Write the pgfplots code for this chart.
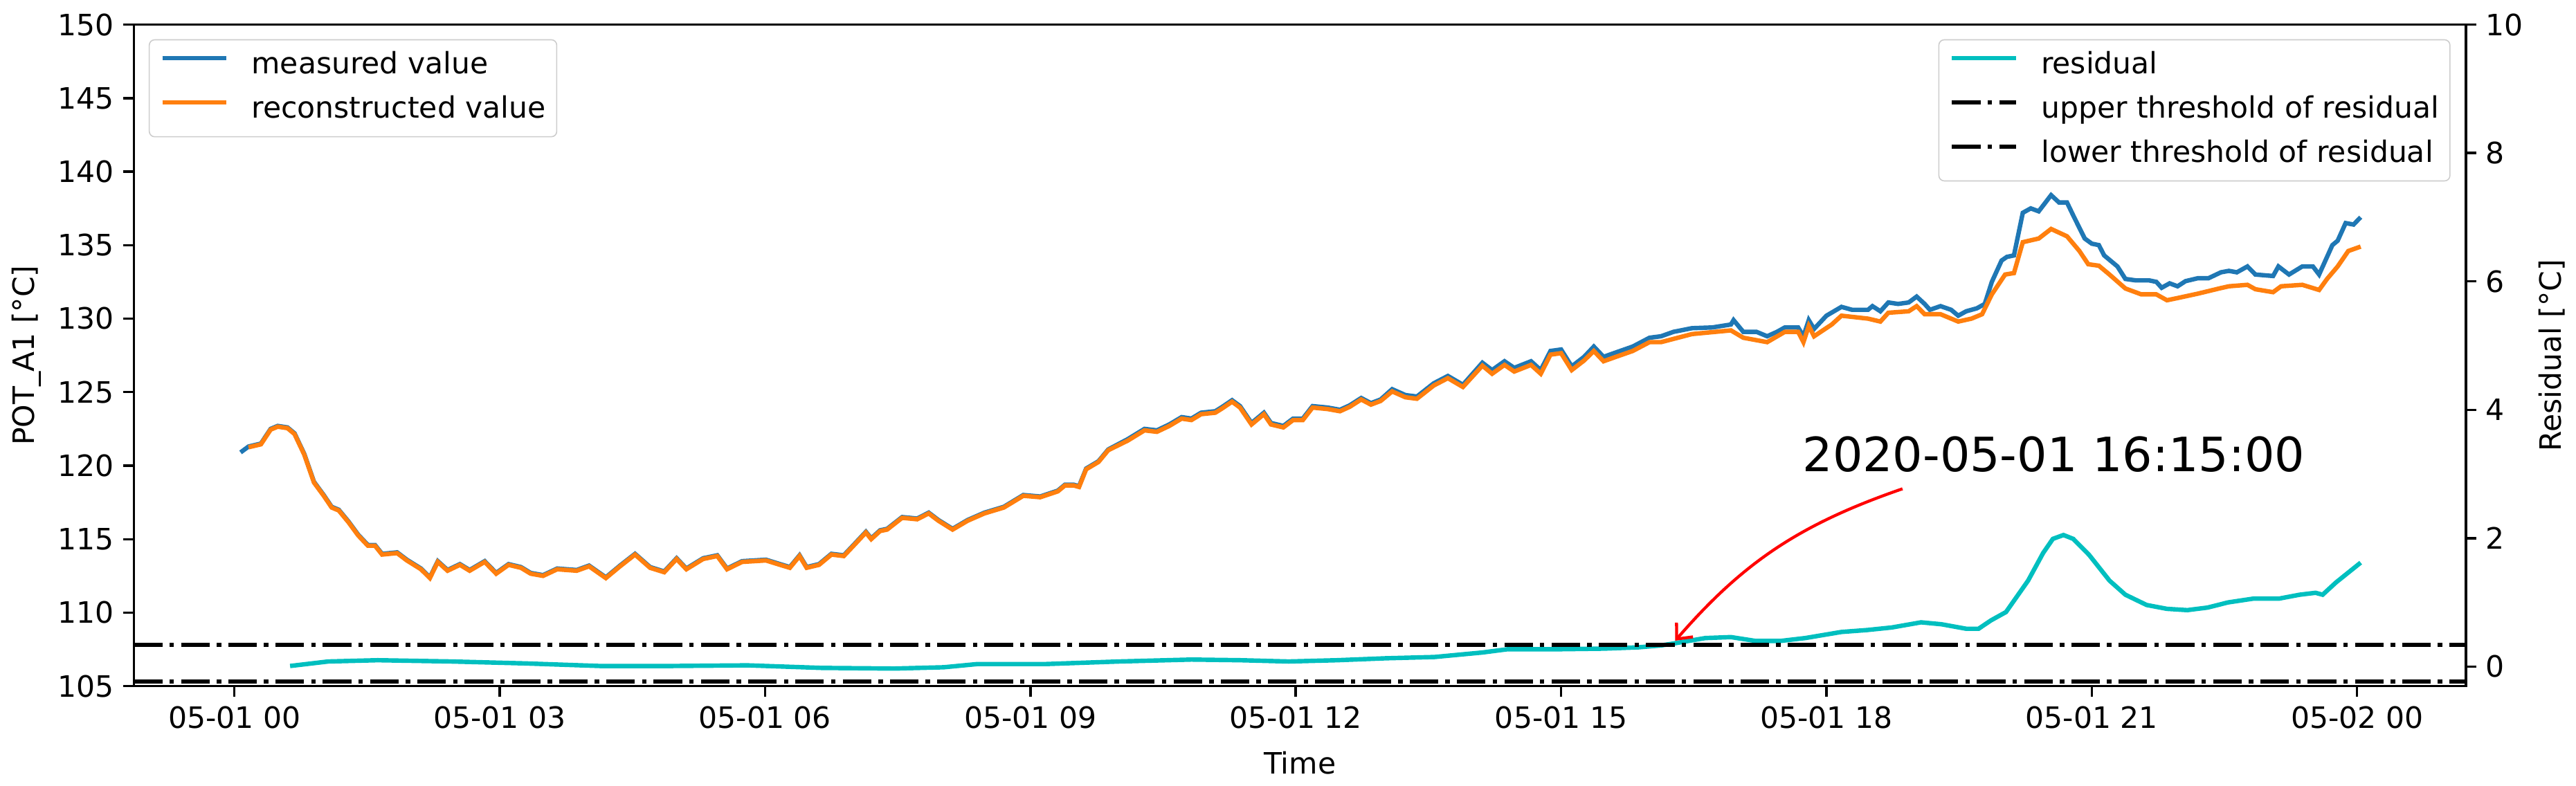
\documentclass[border=0pt]{standalone}
\usepackage{fontspec}
\setmainfont{DejaVu Sans}
\usepackage{graphicx}
\usepackage{pgfplots}
\pgfplotsset{compat=1.18}
\usetikzlibrary{arrows.meta}
\definecolor{mblue}{HTML}{1F77B4}
\definecolor{morange}{HTML}{FF7F0E}
\definecolor{mcyan}{RGB}{0,191,191}
\newcommand\basefont{\fontsize{10.8}{13}\selectfont}
\begin{document}
\begin{tikzpicture}
\pgfplotsset{
  common/.style={
    scale only axis, width=855.7pt, height=242.8pt,
    xmin=-1.137, xmax=25.23,
    axis line style={line width=0.87pt},
    every tick/.style={line width=0.87pt, black},
    major tick length=3.8pt,
    tick align=outside,
    font=\basefont,
    /pgf/number format/assume math mode=true,
    legend cell align=left,
    legend style={draw=black!20, fill=white, fill opacity=0.8, text opacity=1,
      rounded corners=2pt, inner xsep=4pt, inner ysep=4.3pt, row sep=5.4pt,
      font=\basefont,
      nodes={inner sep=0pt, text height=8.2pt, text depth=2.6pt},
      /tikz/every odd column/.append style={column sep=8.5pt}},
    legend image code/.code={\draw[##1] (0pt,2.9pt) -- (23.4pt,2.9pt);},
  }
}
\begin{axis}[common, name=ax1,
  ymin=105, ymax=150, ytick={105,110,...,150},
  xtick={0,3,...,24},
  xticklabels={05-01 00,05-01 03,05-01 06,05-01 09,05-01 12,05-01 15,05-01 18,05-01 21,05-02 00},
  tick pos=left,
  xlabel={Time}, ylabel={POT\_A1 [°C]},
  xlabel style={at={(axis description cs:0.5,-0.1156)}, anchor=center},
  ylabel style={at={(axis description cs:-0.0460,0.5)}, anchor=center},
  legend style={at={(axis description cs:0.0064,0.9779)}, anchor=north west},
]
\addplot[mblue, line width=1.63pt] coordinates {
(0.07,120.9)(0.16,121.3)(0.30,121.5)(0.41,122.5)(0.49,122.7)(0.60,122.6)(0.68,122.2)(0.79,120.8)(0.90,118.9)(1.01,118.0)
(1.10,117.2)(1.18,117.0)(1.29,116.2)(1.40,115.3)(1.51,114.6)(1.59,114.6)(1.67,114.0)(1.84,114.1)(1.95,113.6)(2.11,113.0)
(2.21,112.4)(2.30,113.5)(2.41,112.9)(2.55,113.3)(2.66,112.9)(2.83,113.5)(2.96,112.7)(3.10,113.3)(3.24,113.1)(3.35,112.7)
(3.49,112.55)(3.65,113.0)(3.87,112.9)(4.01,113.2)(4.20,112.4)(4.36,113.2)(4.53,114.0)(4.70,113.1)(4.86,112.8)(5.00,113.7)
(5.11,113.0)(5.30,113.7)(5.46,113.9)(5.57,113.0)(5.74,113.5)(6.01,113.6)(6.17,113.3)(6.28,113.1)(6.39,113.9)(6.47,113.1)
(6.61,113.3)(6.75,114.0)(6.89,113.9)(7.00,114.6)(7.14,115.5)(7.20,115.05)(7.30,115.6)(7.38,115.7)(7.55,116.5)(7.72,116.4)
(7.85,116.8)(7.96,116.3)(8.12,115.7)(8.29,116.3)(8.48,116.8)(8.59,117.0)(8.70,117.2)(8.92,118.0)(9.11,117.9)(9.31,118.3)
(9.39,118.7)(9.49,118.7)(9.55,118.6)(9.63,119.8)(9.77,120.3)(9.88,121.1)(10.10,121.8)(10.29,122.5)(10.43,122.4)(10.57,122.8)
(10.71,123.3)(10.82,123.2)(10.93,123.6)(11.09,123.7)(11.17,124.0)(11.28,124.45)(11.37,124.05)(11.50,122.9)(11.64,123.6)(11.72,122.9)
(11.86,122.7)(11.97,123.2)(12.08,123.2)(12.19,124.05)(12.36,123.95)(12.50,123.8)(12.61,124.1)(12.74,124.6)(12.85,124.25)(12.96,124.5)
(13.09,125.2)(13.24,124.8)(13.37,124.7)(13.56,125.6)(13.72,126.1)(13.89,125.5)(14.11,127.0)(14.22,126.5)(14.36,127.1)(14.47,126.65)
(14.66,127.1)(14.77,126.5)(14.88,127.8)(15.00,127.9)(15.12,126.75)(15.26,127.4)(15.37,128.1)(15.48,127.4)(15.62,127.7)(15.81,128.1)
(16.00,128.7)(16.13,128.8)(16.27,129.1)(16.48,129.35)(16.71,129.4)(16.92,129.6)(16.95,129.9)(17.06,129.1)(17.21,129.1)(17.33,128.8)
(17.44,129.1)(17.53,129.4)(17.68,129.4)(17.74,128.8)(17.80,129.9)(17.86,129.3)(18.00,130.2)(18.17,130.8)(18.29,130.6)(18.47,130.6)
(18.52,130.85)(18.61,130.5)(18.70,131.1)(18.81,131.0)(18.93,131.1)(19.02,131.5)(19.11,131.0)(19.17,130.6)(19.29,130.85)(19.41,130.6)
(19.49,130.2)(19.58,130.5)(19.70,130.7)(19.79,131.0)(19.87,132.5)(19.98,133.95)(20.04,134.2)(20.12,134.3)(20.22,137.2)(20.31,137.5)
(20.40,137.3)(20.54,138.4)(20.63,137.9)(20.72,137.9)(20.80,136.9)(20.92,135.45)(21.00,135.1)(21.08,135.0)(21.14,134.3)(21.29,133.55)
(21.38,132.7)(21.50,132.6)(21.65,132.6)(21.73,132.5)(21.79,132.1)(21.88,132.4)(21.97,132.2)(22.06,132.55)(22.20,132.75)(22.32,132.75)
(22.46,133.15)(22.55,133.25)(22.64,133.15)(22.76,133.55)(22.85,133.0)(23.05,132.9)(23.11,133.55)(23.23,133.0)(23.38,133.55)(23.50,133.55)
(23.57,133.0)(23.63,133.8)(23.72,135.0)(23.78,135.3)(23.87,136.5)(23.96,136.4)(24.04,136.9)
};
\addlegendentry{measured value}
\addplot[morange, line width=1.63pt] coordinates {
(0.16,121.25)(0.30,121.45)(0.41,122.45)(0.49,122.65)(0.60,122.55)(0.68,122.15)(0.79,120.75)(0.90,118.85)(1.01,117.95)
(1.10,117.15)(1.18,116.95)(1.29,116.15)(1.40,115.25)(1.51,114.55)(1.59,114.55)(1.67,113.95)(1.84,114.05)(1.95,113.55)(2.11,112.95)
(2.21,112.35)(2.30,113.45)(2.41,112.85)(2.55,113.25)(2.66,112.85)(2.83,113.45)(2.96,112.65)(3.10,113.25)(3.24,113.05)(3.35,112.65)
(3.49,112.5)(3.65,112.95)(3.87,112.85)(4.01,113.15)(4.20,112.35)(4.36,113.15)(4.53,113.95)(4.70,113.05)(4.86,112.75)(5.00,113.65)
(5.11,112.95)(5.30,113.65)(5.46,113.85)(5.57,112.95)(5.74,113.45)(6.01,113.55)(6.17,113.25)(6.28,113.05)(6.39,113.85)(6.47,113.05)
(6.61,113.25)(6.75,113.95)(6.89,113.85)(7.00,114.55)(7.14,115.45)(7.20,115.0)(7.30,115.55)(7.38,115.65)(7.55,116.45)(7.72,116.35)
(7.85,116.75)(7.96,116.25)(8.12,115.65)(8.29,116.25)(8.48,116.75)(8.59,116.95)(8.70,117.15)(8.92,117.95)(9.11,117.85)(9.31,118.25)
(9.39,118.65)(9.49,118.65)(9.55,118.55)(9.63,119.75)(9.77,120.25)(9.88,121.05)(10.10,121.7)(10.29,122.4)(10.43,122.3)(10.57,122.7)
(10.71,123.2)(10.82,123.1)(10.93,123.5)(11.09,123.6)(11.17,123.9)(11.28,124.35)(11.37,123.95)(11.50,122.8)(11.64,123.5)(11.72,122.8)
(11.86,122.6)(11.97,123.1)(12.08,123.1)(12.19,123.95)(12.36,123.85)(12.50,123.7)(12.61,124.0)(12.74,124.5)(12.85,124.15)(12.96,124.4)
(13.09,125.05)(13.24,124.65)(13.37,124.55)(13.56,125.45)(13.72,125.95)(13.89,125.35)(14.11,126.8)(14.22,126.25)(14.36,126.85)(14.47,126.4)
(14.66,126.85)(14.77,126.25)(14.88,127.55)(15.00,127.65)(15.12,126.5)(15.26,127.15)(15.37,127.8)(15.48,127.1)(15.62,127.4)(15.81,127.8)
(16.00,128.4)(16.13,128.4)(16.48,128.95)(16.92,129.2)(17.06,128.7)(17.33,128.4)(17.53,129.1)(17.68,129.1)(17.74,128.4)(17.80,129.5)
(17.86,128.8)(18.06,129.6)(18.17,130.2)(18.47,130.0)(18.61,129.8)(18.70,130.4)(18.93,130.5)(19.02,130.85)(19.11,130.3)(19.29,130.3)
(19.49,129.8)(19.64,130.0)(19.76,130.3)(19.87,131.65)(20.02,133.0)(20.12,133.1)(20.22,135.2)(20.40,135.45)(20.54,136.1)(20.72,135.6)
(20.86,134.6)(20.96,133.7)(21.08,133.6)(21.20,133.0)(21.38,132.05)(21.56,131.65)(21.73,131.65)(21.85,131.25)(21.97,131.4)(22.20,131.7)
(22.44,132.05)(22.55,132.2)(22.76,132.3)(22.85,132.0)(23.05,131.8)(23.14,132.2)(23.38,132.3)(23.57,131.95)(23.66,132.7)(23.78,133.55)
(23.90,134.6)(24.04,134.9)
};
\addlegendentry{reconstructed value}
\end{axis}
\begin{axis}[common, name=ax2,
  ymin=-0.304, ymax=10, ytick={0,2,...,10},
  axis y line*=right, axis x line=none,
  ylabel={Residual [°C]},
  ylabel style={at={(axis description cs:1.0368,0.5)}, anchor=center},
  legend style={at={(axis description cs:0.9934,0.9779)}, anchor=north east},
]
\addplot[mcyan, line width=1.63pt] coordinates {
(0.63,0.01)(1.06,0.08)(1.62,0.10)(2.46,0.08)(3.29,0.05)(4.13,0.01)(4.96,0.01)(5.80,0.02)(6.64,-0.02)(7.46,-0.03)
(8.02,-0.01)(8.40,0.04)(9.17,0.04)(10.00,0.08)(10.82,0.11)(11.37,0.10)(11.92,0.08)(12.47,0.10)(13.02,0.13)(13.57,0.15)
(14.11,0.22)(14.39,0.27)(14.94,0.27)(15.48,0.28)(15.87,0.30)(16.13,0.33)(16.27,0.36)(16.63,0.445)(16.92,0.46)(17.20,0.40)
(17.48,0.40)(17.76,0.445)(18.17,0.54)(18.46,0.57)(18.74,0.61)(19.07,0.69)(19.30,0.66)(19.58,0.59)(19.72,0.59)(19.86,0.72)
(20.03,0.85)(20.28,1.34)(20.45,1.77)(20.56,1.99)(20.68,2.05)(20.79,1.99)(20.97,1.74)(21.20,1.34)(21.38,1.12)(21.62,0.96)
(21.85,0.90)(22.08,0.88)(22.31,0.92)(22.54,1.00)(22.83,1.06)(23.12,1.06)(23.35,1.12)(23.53,1.15)(23.61,1.12)(23.76,1.31)
(24.04,1.62)
};
\addlegendentry{residual}
\addplot[black, line width=1.63pt, line cap=butt, dash pattern=on 10.46pt off 2.62pt on 1.64pt off 2.62pt] coordinates {(-1.137,0.34) (25.23,0.34)};
\addlegendentry{upper threshold of residual}
\addplot[black, line width=1.63pt, line cap=butt, dash pattern=on 10.46pt off 2.62pt on 1.64pt off 2.62pt] coordinates {(-1.137,-0.234) (25.23,-0.234)};
\addlegendentry{lower threshold of residual}
\node[font=\fontsize{17.35}{20}\selectfont, anchor=center, inner sep=0pt] at (axis cs:20.57,3.31) {2020-05-01 16:15:00};
\draw[red, line width=1.09pt, -{Straight Barb[length=4.5pt,width=8pt]}, shorten >=2pt] (axis cs:18.86,2.77) to[bend right=15] (axis cs:16.25,0.34);
\end{axis}
\pgfresetboundingbox
\path ([xshift=-49.1pt,yshift=-36.45pt]ax1.south west) rectangle ([xshift=40.4pt,yshift=9.04pt]ax1.north east);
\end{tikzpicture}
\end{document}
